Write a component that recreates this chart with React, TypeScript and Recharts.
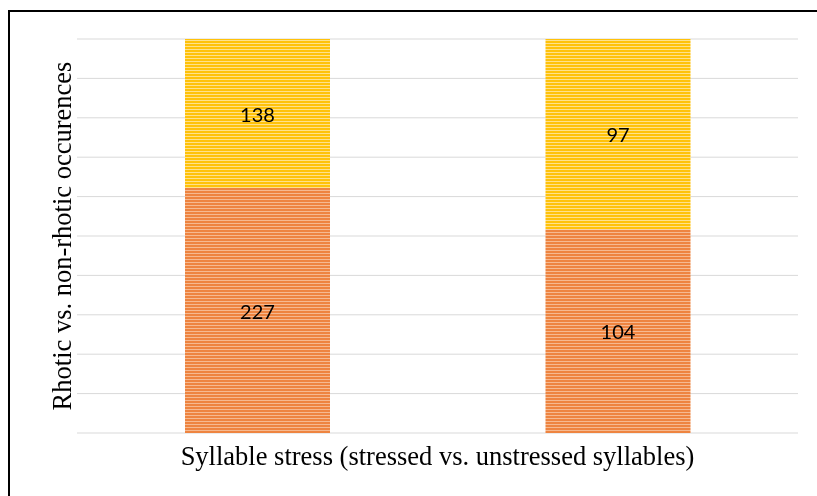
import React from 'react';
import { BarChart, Bar, XAxis, YAxis, CartesianGrid, LabelList } from 'recharts';

const categories = ['Stressed', 'Unstressed'];
const rhotic = [227, 104];
const nonRhotic = [138, 97];
const yTicks = [0, 0.1, 0.2, 0.3, 0.4, 0.5, 0.6, 0.7, 0.8, 0.9, 1];
const xTitle = 'Syllable stress (stressed vs. unstressed syllables)';
const yTitle = 'Rhotic vs. non-rhotic occurences';

const data = categories.map((c, i) => ({ cat: c, rhotic: rhotic[i], nonRhotic: nonRhotic[i] }));

const W = 801;
const H = 480;

export default function App() {
  return (
    <div style={{ position: 'relative', width: W, height: H }}>
      <div
        style={{
          position: 'fixed',
          left: 8,
          top: 10,
          right: 0,
          bottom: 0,
          borderTop: '2px solid #000',
          borderLeft: '2px solid #000',
          pointerEvents: 'none',
        }}
      />
      <div style={{ position: 'absolute', left: 0, top: 0 }}>
        <BarChart
          width={W}
          height={H}
          data={data}
          stackOffset="expand"
          margin={{ top: 31, right: 11, left: 69, bottom: 55 }}
          barSize={145}
        >
          <defs>
            <pattern id="orangeStripe" width="4" height="3" patternUnits="userSpaceOnUse">
              <rect width="4" height="3" fill="#F6B990" />
              <rect width="4" height="2" fill="#EE8440" />
            </pattern>
            <pattern id="yellowStripe" width="4" height="3" patternUnits="userSpaceOnUse">
              <rect width="4" height="3" fill="#FFE18A" />
              <rect width="4" height="2" fill="#FFC20A" />
            </pattern>
          </defs>
          <CartesianGrid vertical={false} stroke="#d9d9d9" strokeWidth={1} />
          <XAxis dataKey="cat" hide />
          <YAxis hide domain={[0, 1]} ticks={yTicks} />
          <Bar dataKey="rhotic" stackId="a" fill="url(#orangeStripe)" isAnimationActive={false}>
            <LabelList dataKey="rhotic" position="center" fill="#000" fontSize={20} fontFamily="Lato" dy={1} />
          </Bar>
          <Bar dataKey="nonRhotic" stackId="a" fill="url(#yellowStripe)" isAnimationActive={false}>
            <LabelList dataKey="nonRhotic" position="center" fill="#000" fontSize={20} fontFamily="Lato" dy={1} />
          </Bar>
        </BarChart>
      </div>
      <div
        style={{
          position: 'absolute',
          left: 69,
          width: 721,
          top: 433,
          textAlign: 'center',
          fontFamily: '"Liberation Serif", "Times New Roman", serif',
          fontSize: 26.5,
          lineHeight: '30px',
          color: '#000',
          whiteSpace: 'nowrap',
        }}
      >
        {xTitle}
      </div>
      <div
        style={{
          position: 'absolute',
          left: 54,
          top: 228,
          width: 0,
          height: 0,
        }}
      >
        <div
          style={{
            position: 'absolute',
            left: 0,
            top: 0,
            transform: 'translate(-50%, -50%) rotate(-90deg)',
            fontFamily: '"Liberation Serif", "Times New Roman", serif',
            fontSize: 26.5,
            lineHeight: '30px',
            color: '#000',
            whiteSpace: 'nowrap',
          }}
        >
          {yTitle}
        </div>
      </div>
    </div>
  );
}
